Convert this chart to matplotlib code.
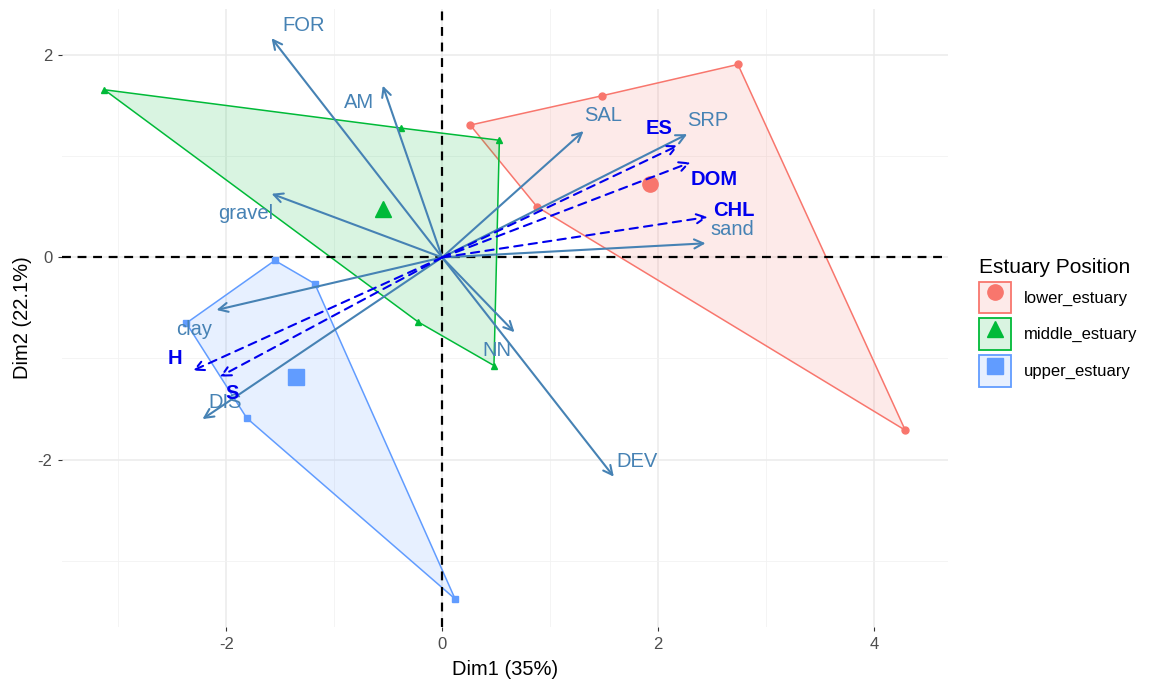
import numpy as np
import matplotlib
matplotlib.use("Agg")
import matplotlib.pyplot as plt
from matplotlib.patches import Patch, Polygon
from matplotlib.lines import Line2D
from matplotlib.legend_handler import HandlerTuple
from matplotlib.colors import to_rgba

plt.rcParams['font.family'] = ['Liberation Sans', 'DejaVu Sans']
plt.rcParams['axes.unicode_minus'] = False

# individuals (PCA scores) by group
groups = ['lower_estuary', 'middle_estuary', 'upper_estuary']
lower_x = [0.26, 1.48, 2.74, 4.29, 0.88]
lower_y = [1.31, 1.60, 1.91, -1.71, 0.50]
middle_x = [-3.13, -0.38, 0.53, 0.48, -0.22]
middle_y = [1.66, 1.28, 1.16, -1.07, -0.64]
upper_x = [-1.55, -1.18, 0.12, -1.81, -2.37]
upper_y = [-0.03, -0.26, -3.38, -1.59, -0.65]

# active variables (solid arrows)
var_names = ['FOR', 'AM', 'gravel', 'SAL', 'SRP', 'sand', 'clay', 'DIS', 'NN', 'DEV']
var_x = [-1.58, -0.55, -1.58, 1.31, 2.27, 2.44, -2.09, -2.22, 0.67, 1.59]
var_y = [2.17, 1.70, 0.63, 1.25, 1.22, 0.14, -0.52, -1.60, -0.74, -2.17]

# supplementary variables (dashed arrows)
sup_names = ['ES', 'DOM', 'CHL', 'H', 'S']
sup_x = [2.19, 2.30, 2.46, -2.31, -2.06]
sup_y = [1.11, 0.94, 0.40, -1.12, -1.18]

# label offsets (points) for each arrow label
var_off = {'FOR': (23, 9), 'AM': (-17, -12), 'gravel': (-19, -14), 'SAL': (14, 11),
           'SRP': (15, 10), 'sand': (19, 10), 'clay': (-16, -14), 'DIS': (16, 12),
           'NN': (-13, -13), 'DEV': (17, 11)}
sup_off = {'ES': (-14, 12), 'DOM': (17, -12), 'CHL': (19, 5), 'H': (-13, 9), 'S': (9, -12)}

colors = ['#F8766D', '#00BA38', '#619CFF']
markers = ['o', '^', 's']
var_col = '#4682B4'
sup_col = '#0000EE'

fig = plt.figure(figsize=(11.51, 6.84), dpi=100)
ax = fig.add_axes([0.054, 0.083, 0.770, 0.904])

xs = [lower_x, middle_x, upper_x]
ys = [lower_y, middle_y, upper_y]
for gx, gy, c, m in zip(xs, ys, colors, markers):
    gx = np.array(gx); gy = np.array(gy)
    cx, cy = gx.mean(), gy.mean()
    order = np.argsort(np.arctan2(gy - cy, gx - cx))
    poly = Polygon(np.column_stack([gx[order], gy[order]]), closed=True,
                   facecolor=to_rgba(c, 0.15), edgecolor=c, lw=1.1, zorder=2)
    ax.add_patch(poly)
    ax.plot(gx, gy, linestyle='none', marker=m, color=c, ms=5, zorder=3)
    ax.plot([cx], [cy], linestyle='none', marker=m, color=c, ms=11, zorder=3)

ax.axhline(0, color='black', ls=(0, (4, 3)), lw=1.6, zorder=2.5)
ax.axvline(0, color='black', ls=(0, (4, 3)), lw=1.6, zorder=2.5)

for n, x, y in zip(var_names, var_x, var_y):
    ax.annotate('', xy=(x, y), xytext=(0, 0),
                arrowprops=dict(arrowstyle='->,head_length=0.5,head_width=0.25',
                                color=var_col, lw=1.5, shrinkA=0, shrinkB=0,
                                mutation_scale=13), zorder=4)
    ax.annotate(n, xy=(x, y), xytext=var_off[n], textcoords='offset points',
                ha='center', va='center', color=var_col, fontsize=14.5, zorder=5)

for n, x, y in zip(sup_names, sup_x, sup_y):
    ax.annotate('', xy=(x, y), xytext=(0, 0),
                arrowprops=dict(arrowstyle='->,head_length=0.5,head_width=0.25',
                                color=sup_col, lw=1.5, ls=(0, (4, 3)), shrinkA=0,
                                shrinkB=0, mutation_scale=13), zorder=4)
    ax.annotate(n, xy=(x, y), xytext=sup_off[n], textcoords='offset points',
                ha='center', va='center', color=sup_col, fontsize=14.5,
                fontweight='bold', zorder=5)

ax.set_xlim(-3.52, 4.69)
ax.set_ylim(-3.66, 2.46)
ax.set_xticks([-2, 0, 2, 4])
ax.set_yticks([-2, 0, 2])
ax.set_xticks([-3, -1, 1, 3], minor=True)
ax.set_yticks([-3, -1, 1], minor=True)
ax.grid(which='major', color='#EBEBEB', lw=1.1, zorder=0)
ax.grid(which='minor', color='#F2F2F2', lw=0.6, zorder=0)
ax.set_axisbelow(True)
for s in ax.spines.values():
    s.set_visible(False)
ax.tick_params(which='major', length=3, color='#333333', labelcolor='#4D4D4D',
               labelsize=12, pad=4)
ax.tick_params(which='minor', length=0)
ax.set_xlabel('Dim1 (35%)', fontsize=14.5, labelpad=6)
ax.set_ylabel('Dim2 (22.1%)', fontsize=14.5, labelpad=4)

handles = []
for c, m in zip(colors, markers):
    p = Patch(facecolor=to_rgba(c, 0.15), edgecolor=c, lw=1.3)
    l = Line2D([], [], linestyle='none', marker=m, color=c, ms=11)
    handles.append((p, l))
leg = fig.legend(handles, groups, handler_map={tuple: HandlerTuple(ndivide=1, pad=0)},
                 title='Estuary Position', loc='upper left',
                 bbox_to_anchor=(0.845, 0.633), frameon=False, fontsize=12,
                 title_fontsize=15, handlelength=1.9, handleheight=2.55,
                 labelspacing=0.3, handletextpad=0.8, borderaxespad=0)
leg._legend_box.align = 'left'

fig.savefig('out.png', dpi=100)
